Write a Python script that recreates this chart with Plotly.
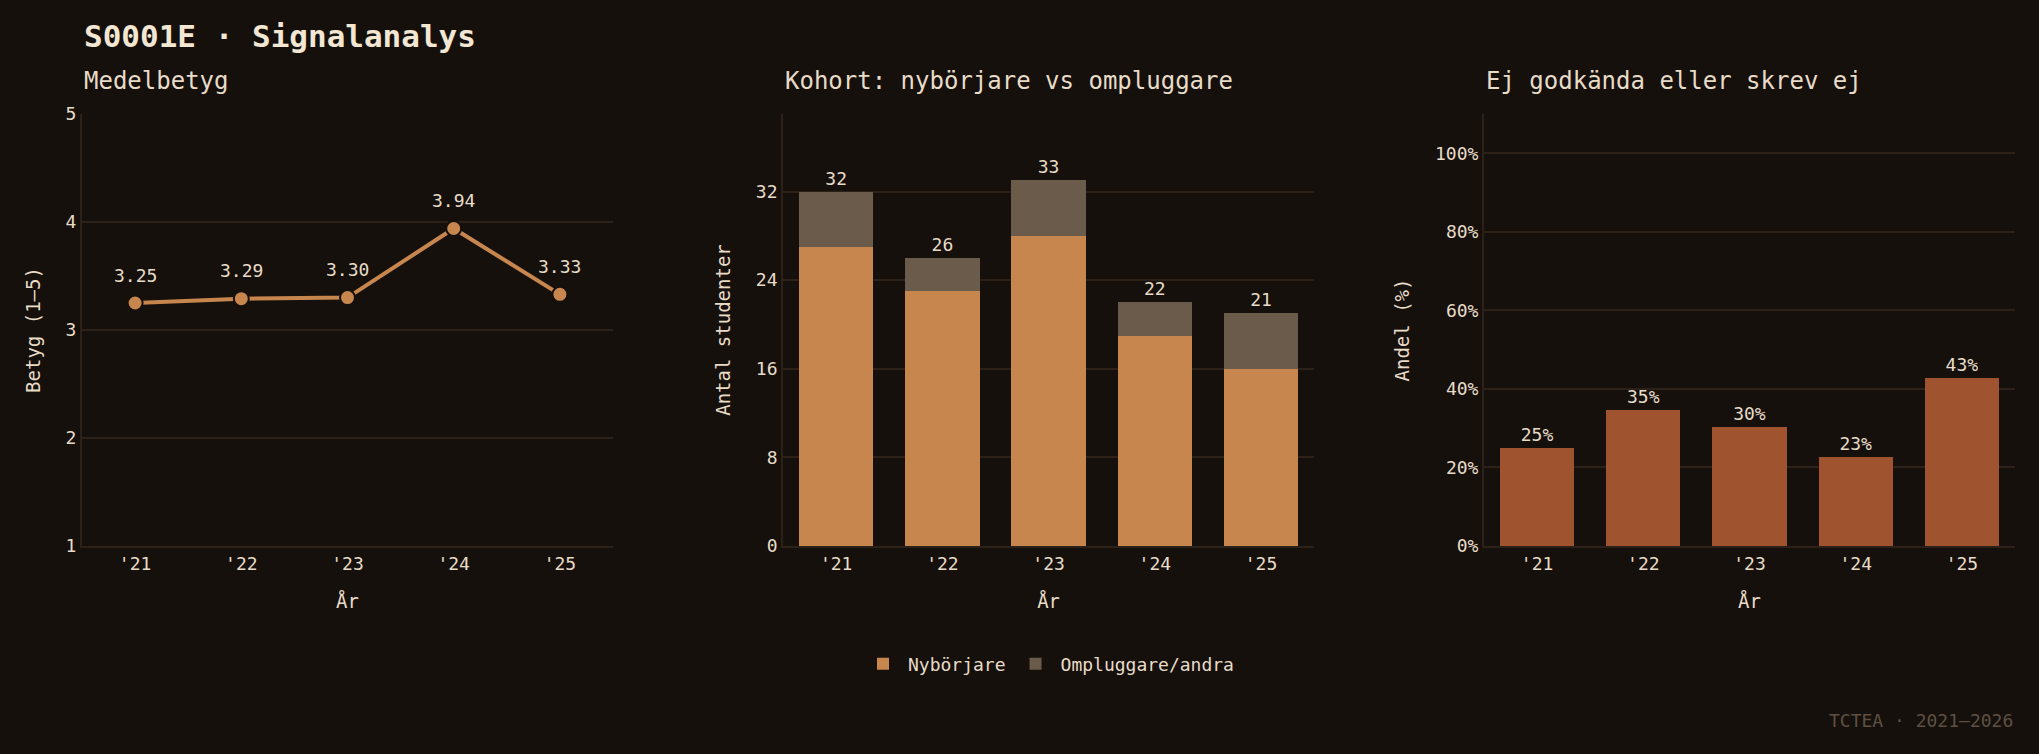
import plotly.graph_objects as go

# data
years = ["'21", "'22", "'23", "'24", "'25"]
medelbetyg = [3.25, 3.29, 3.30, 3.94, 3.33]
nyborjare = [27, 23, 28, 19, 16]
ompluggare = [5, 3, 5, 3, 5]
totalt = [32, 26, 33, 22, 21]
ej_godkanda = [25.0, 34.6, 30.3, 22.7, 42.9]
pct_ticks = [0, 20, 40, 60, 80, 100]

# stil
BG = "#15100c"
GRID = "#2b2119"
TXT = "#e8dcc8"
TITLE_C = "#f3e7d3"
ORANGE = "#c8864f"
GREYBROWN = "#6b5b4a"
RUST = "#a0532f"
FOOT = "#5e5042"
FONT = "DejaVu Sans Mono"

fig = go.Figure()

# panel 1: medelbetyg
fig.add_trace(go.Scatter(
    x=years, y=medelbetyg, mode="lines+markers",
    line=dict(color=ORANGE, width=4),
    marker=dict(color=ORANGE, size=15, line=dict(color=BG, width=2)),
    showlegend=False, cliponaxis=False,
    xaxis="x", yaxis="y"))
for yr, v in zip(years, medelbetyg):
    fig.add_annotation(x=yr, y=v, xref="x", yref="y", text=f"{v:.2f}",
                       showarrow=False, yshift=28, yanchor="middle",
                       font=dict(size=18, color=TXT, family=FONT))

# panel 2: kohort
fig.add_trace(go.Bar(
    x=years, y=nyborjare, name="Nybörjare", marker=dict(color=ORANGE, line_width=0),
    xaxis="x2", yaxis="y2"))
fig.add_trace(go.Bar(
    x=years, y=ompluggare, name="Ompluggare/andra", marker=dict(color=GREYBROWN, line_width=0),
    text=[str(t) for t in totalt], textposition="outside",
    textfont=dict(color=TXT, size=18, family=FONT),
    constraintext="none", cliponaxis=False,
    xaxis="x2", yaxis="y2"))

# panel 3: ej godkända
fig.add_trace(go.Bar(
    x=years, y=ej_godkanda, marker=dict(color=RUST, line_width=0), showlegend=False,
    text=[f"{v:.0f}%" for v in ej_godkanda], textposition="outside",
    textfont=dict(color=TXT, size=18, family=FONT),
    constraintext="none", cliponaxis=False,
    xaxis="x3", yaxis="y3"))

xcommon = dict(showgrid=False, showline=True, linecolor=GRID, linewidth=2,
               ticks="", tickfont=dict(size=18, color=TXT), range=[-0.5, 4.5],
               title=dict(text="År", font=dict(size=19, color=TXT), standoff=22))
ycommon = dict(showgrid=True, gridcolor=GRID, gridwidth=2, zeroline=False,
               showline=True, linecolor=GRID, linewidth=2, ticks="",
               tickfont=dict(size=18, color=TXT))


def ytitle(t):
    return dict(text=t, font=dict(size=19, color=TXT), standoff=20)


fig.update_layout(
    width=2039, height=754,
    paper_bgcolor=BG, plot_bgcolor=BG,
    font=dict(family=FONT, color=TXT, size=18),
    margin=dict(l=82, r=24, t=114, b=208, autoexpand=False),
    barmode="stack", bargap=0.3,
    xaxis=dict(domain=[0, 0.2747], anchor="y", **xcommon),
    yaxis=dict(range=[1, 5], dtick=1, anchor="x", title=ytitle("Betyg (1–5)"), **ycommon),
    xaxis2=dict(domain=[0.3627, 0.6374], anchor="y2", **xcommon),
    yaxis2=dict(range=[0, 39], tickvals=[0, 8, 16, 24, 32], anchor="x2",
                title=ytitle("Antal studenter"), **ycommon),
    xaxis3=dict(domain=[0.7253, 1.0], anchor="y3", **xcommon),
    yaxis3=dict(range=[0, 110], tickvals=pct_ticks, ticktext=[f"{p}%" for p in pct_ticks],
                anchor="x3", title=ytitle("Andel (%)"), **ycommon),
    legend=dict(orientation="h", x=0.5, xanchor="center", y=-0.273, yanchor="middle",
                traceorder="normal", font=dict(size=18, color=TXT),
                bgcolor="rgba(0,0,0,0)", itemwidth=40),
)

# rubriker
fig.add_annotation(text="<b>S0001E · Signalanalys</b>", xref="paper", yref="paper",
                   x=0, y=1.1806, xanchor="left", yanchor="middle", showarrow=False,
                   font=dict(size=31, color=TITLE_C, family=FONT))
for x0, t in [(0, "Medelbetyg"), (0.3627, "Kohort: nybörjare vs ompluggare"),
              (0.7253, "Ej godkända eller skrev ej")]:
    fig.add_annotation(text=t, xref="paper", yref="paper", x=x0, y=1.0764,
                       xanchor="left", yanchor="middle", showarrow=False,
                       font=dict(size=24, color=TXT, family=FONT))
fig.add_annotation(text="TCTEA · 2021–2026", xref="paper", yref="paper",
                   x=1.0, y=-0.4028, xanchor="right", yanchor="middle", showarrow=False,
                   font=dict(size=18, color=FOOT, family=FONT))

fig.write_html("out.html", config={"displayModeBar": False},
               post_script="document.body.style.margin='0';document.body.style.background='#15100c';")
